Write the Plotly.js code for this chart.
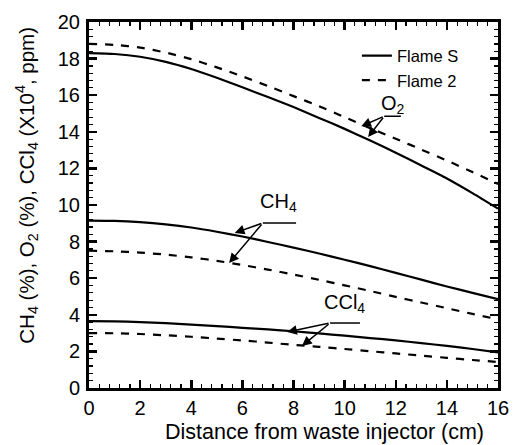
<!DOCTYPE html>
<html>
<head>
<meta charset="utf-8">
<script src="https://cdn.plot.ly/plotly-3.0.1.min.js"></script>
<style>html,body{margin:0;padding:0;background:#fff;}#chart{width:513px;height:445px;}</style>
</head>
<body>
<div id="chart"></div>
<script>
const distance = [0,1,2,3,4,5,6,7,8,9,10,11,12,13,14,15,16];
const o2FlameS   = [18.3,18.25,18.1,17.82,17.43,16.95,16.43,15.9,15.35,14.76,14.16,13.52,12.86,12.16,11.45,10.65,9.8];
const o2Flame2   = [18.8,18.75,18.6,18.33,17.97,17.52,17.03,16.5,15.95,15.4,14.8,14.2,13.62,13.03,12.43,11.8,11.15];
const ch4FlameS  = [9.15,9.13,9.06,8.94,8.77,8.54,8.28,7.98,7.67,7.35,7.01,6.66,6.29,5.92,5.55,5.2,4.85];
const ch4Flame2  = [7.5,7.47,7.4,7.29,7.14,6.95,6.72,6.47,6.2,5.91,5.61,5.3,4.98,4.67,4.36,4.05,3.75];
const ccl4FlameS = [3.65,3.64,3.6,3.54,3.46,3.38,3.29,3.2,3.1,2.98,2.86,2.73,2.6,2.45,2.3,2.13,1.95];
const ccl4Flame2 = [3.0,2.99,2.95,2.88,2.8,2.7,2.6,2.48,2.36,2.25,2.13,2.01,1.89,1.77,1.65,1.53,1.42];
const seriesNames = ["Flame S", "Flame 2"];
const xTitle = "Distance from waste injector (cm)";
const yTitle = "CH<sub>4</sub> (%), O<sub>2</sub> (%), CCl<sub>4</sub> (X10<sup>4</sup>, ppm)";

// label annotations: [text, labelX, labelY, barStartX, barEndX, barY, arrow1X, arrow1Y, arrow2X, arrow2Y]
const labels = [
  ["O<sub>2</sub>", 11.9, 15.5, 11.55, 12.2, 14.85, 10.65, 14.3, 10.92, 13.72],
  ["CH<sub>4</sub>", 7.4, 10.15, 6.8, 8.1, 9.02, 5.7, 8.47, 5.48, 6.83],
  ["CCl<sub>4</sub>", 10.0, 4.6, 9.43, 10.6, 3.55, 7.75, 3.06, 8.33, 2.3]
];

const font = "Liberation Sans, Arial, sans-serif";
const traces = [];
const pairs = [[o2FlameS,o2Flame2],[ch4FlameS,ch4Flame2],[ccl4FlameS,ccl4Flame2]];
pairs.forEach((p,i)=>{
  traces.push({x:distance,y:p[0],mode:'lines',line:{color:'#000',width:2.2,shape:'spline',smoothing:0.6},name:seriesNames[0],showlegend:i===0,legendrank:1});
  traces.push({x:distance,y:p[1],mode:'lines',line:{color:'#000',width:2.2,dash:'8px,8px',shape:'spline',smoothing:0.6},name:seriesNames[1],showlegend:i===0,legendrank:2});
});

const annotations = [];
const shapes = [];
labels.forEach(l=>{
  annotations.push({x:l[1],y:l[2],xref:'x',yref:'y',text:l[0],showarrow:false,font:{family:font,size:20,color:'#000'}});
  shapes.push({type:'line',xref:'x',yref:'y',x0:l[3],x1:l[4],y0:l[5],y1:l[5],line:{color:'#000',width:1.5}});
  [[l[6],l[7]],[l[8],l[9]]].forEach(a=>{
    annotations.push({x:a[0],y:a[1],xref:'x',yref:'y',ax:l[3],ay:l[5],axref:'x',ayref:'y',text:'',showarrow:true,arrowhead:2,arrowsize:1.3,arrowwidth:1.5,arrowcolor:'#000',standoff:0,startstandoff:0});
  });
});
// axis titles
annotations.push({xref:'paper',yref:'paper',x:0.577,y:-0.12,xanchor:'center',yanchor:'middle',text:xTitle,showarrow:false,font:{family:font,size:21.5,color:'#000'}});
annotations.push({xref:'paper',yref:'paper',x:-0.152,y:0.555,xanchor:'center',yanchor:'middle',textangle:-90,text:yTitle,showarrow:false,font:{family:font,size:20.5,color:'#000'}});

const layout = {
  width:513,height:445,
  margin:{l:89,r:15,t:22,b:57},
  paper_bgcolor:'#fff',plot_bgcolor:'#fff',
  font:{family:font,color:'#000',size:20},
  showlegend:true,
  legend:{x:0.655,y:0.955,xanchor:'left',yanchor:'top',bgcolor:'rgba(0,0,0,0)',font:{family:font,size:16.5,color:'#000'},tracegroupgap:0,itemwidth:30},
  xaxis:{range:[0,16],dtick:2,tick0:0,showgrid:false,zeroline:false,showline:true,linewidth:3,linecolor:'#000',mirror:'allticks',ticks:'inside',ticklen:8,tickwidth:2.5,tickcolor:'#000',tickfont:{family:font,size:20},
    minor:{dtick:0.4,ticks:'inside',ticklen:4,tickwidth:1.2,tickcolor:'#000',showgrid:false}},
  yaxis:{range:[0,20],dtick:2,tick0:0,showgrid:false,zeroline:false,showline:true,linewidth:3,linecolor:'#000',mirror:'allticks',ticks:'inside',ticklen:8,tickwidth:2.5,tickcolor:'#000',tickfont:{family:font,size:20},ticklabelstandoff:2,
    minor:{dtick:0.4,ticks:'inside',ticklen:4,tickwidth:1.2,tickcolor:'#000',showgrid:false}},
  annotations:annotations,
  shapes:shapes
};
Plotly.newPlot('chart',traces,layout,{staticPlot:true,displayModeBar:false});
</script>
</body>
</html>
